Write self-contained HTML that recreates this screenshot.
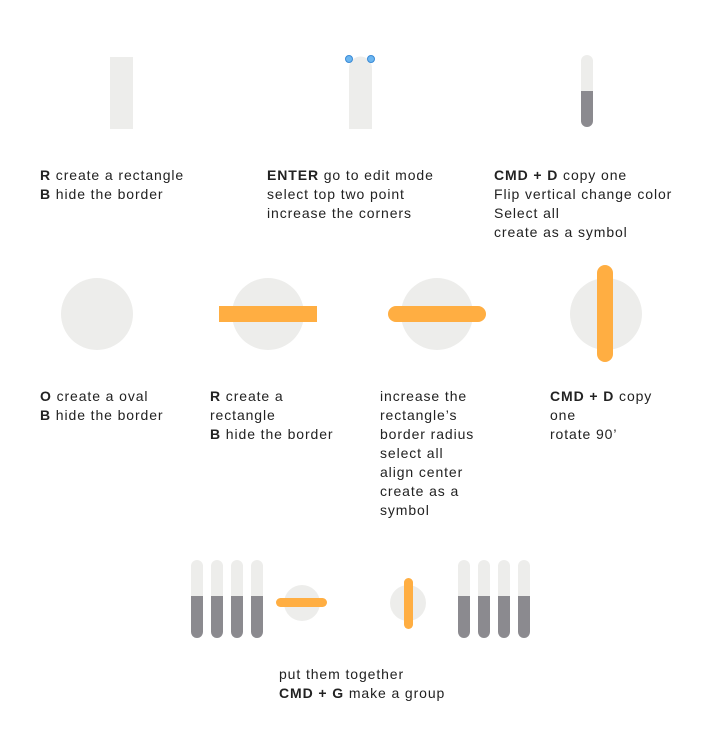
<!DOCTYPE html>
<html><head><meta charset="utf-8"><style>
body{margin:0;background:#fff;width:720px;height:749px;overflow:hidden;position:relative;font-family:"Liberation Sans",sans-serif;}
svg{position:absolute;left:0;top:0}
.t{position:absolute;font-size:14px;line-height:19px;color:#222;letter-spacing:0.9px;white-space:nowrap}
.t b{font-weight:bold}
</style></head><body>
<svg width="720" height="749">
<rect x="110" y="57" width="23" height="72" fill="#ededeb"/>
<path d="M349 129 V68 A11.5 11.5 0 0 1 372 68 V129 Z" fill="#ededeb"/>
<circle cx="349" cy="59" r="3.5" fill="#6cb6f0" stroke="#3a8ad6" stroke-width="1"/>
<circle cx="371" cy="59" r="3.5" fill="#6cb6f0" stroke="#3a8ad6" stroke-width="1"/>
<g>
<path d="M581 91 V61 A6 6 0 0 1 593 61 V91 Z" fill="#ededeb"/>
<path d="M581 91 V121 A6 6 0 0 0 593 121 V91 Z" fill="#8b8a8f"/>
</g>
<circle cx="97" cy="314" r="36" fill="#ededeb"/>
<circle cx="268" cy="314" r="36" fill="#ededeb"/>
<rect x="219" y="306" width="98" height="16" fill="#ffae42"/>
<circle cx="437" cy="314" r="36" fill="#ededeb"/>
<rect x="388" y="306" width="98" height="16" rx="8" fill="#ffae42"/>
<circle cx="606" cy="314" r="36" fill="#ededeb"/>
<rect x="597" y="265" width="16" height="97" rx="8" fill="#ffae42"/>
<g id="bars"></g>
<circle cx="302" cy="603" r="18" fill="#ededeb"/>
<rect x="276" y="598" width="51" height="9" rx="4.5" fill="#ffae42"/>
<circle cx="408" cy="603" r="18" fill="#ededeb"/>
<rect x="404" y="578" width="9" height="51" rx="4.5" fill="#ffae42"/>
</svg>
<div class="t" style="left:40px;top:166px"><b>R</b> create a rectangle<br><b>B</b> hide the border</div>
<div class="t" style="left:267px;top:166px"><b>ENTER</b> go to edit mode<br>select top two point<br>increase the corners</div>
<div class="t" style="left:494px;top:166px"><b>CMD + D</b> copy one<br>Flip vertical change color<br>Select all<br>create as a symbol</div>
<div class="t" style="left:40px;top:387px"><b>O</b> create a oval<br><b>B</b> hide the border</div>
<div class="t" style="left:210px;top:387px"><b>R</b> create a<br>rectangle<br><b>B</b> hide the border</div>
<div class="t" style="left:380px;top:387px">increase the<br>rectangle’s<br>border radius<br>select all<br>align center<br>create as a<br>symbol</div>
<div class="t" style="left:550px;top:387px"><b>CMD + D</b> copy<br>one<br>rotate 90’</div>
<div class="t" style="left:279px;top:665px">put them together<br><b>CMD + G</b> make a group</div>
<script>
const barXs=[191,211,231,251,458,478,498,518];
const g=document.getElementById('bars');
const ns='http://www.w3.org/2000/svg';
barXs.forEach(x=>{
 const a=document.createElementNS(ns,'path');
 a.setAttribute('d',`M${x} 596 V566 A6 6 0 0 1 ${x+12} 566 V596 Z`);
 a.setAttribute('fill','#ededeb');
 const b=document.createElementNS(ns,'path');
 b.setAttribute('d',`M${x} 596 V632 A6 6 0 0 0 ${x+12} 632 V596 Z`);
 b.setAttribute('fill','#8b8a8f');
 const gg=document.createElementNS(ns,'g');
 
 
 gg.appendChild(a);gg.appendChild(b);g.appendChild(gg);
});
</script>
</body></html>
